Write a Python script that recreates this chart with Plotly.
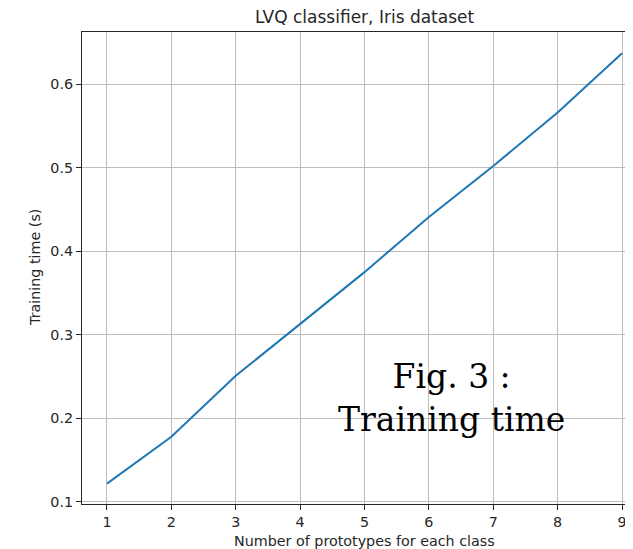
import plotly.graph_objects as go

prototypes = [1, 2, 3, 4, 5, 6, 7, 8, 9]
train_time = [0.122, 0.178, 0.251, 0.313, 0.375, 0.441, 0.502, 0.566, 0.637]
x_ticks = [1, 2, 3, 4, 5, 6, 7, 8, 9]
y_ticks = [0.1, 0.2, 0.3, 0.4, 0.5, 0.6]

OFF = 8  # page body margin
W, H = 633 - OFF, 549 - OFF
# plot area in screen pixels: x 82..633, y 32..504
L = 82 - OFF
T = 32 - OFF
R = 0
B = H - (504 - OFF)

fig = go.Figure()
fig.add_trace(go.Scatter(x=prototypes, y=train_time, mode="lines",
                         line=dict(color="#1f77b4", width=2), showlegend=False))

font = "DejaVu Sans"
grid = "#bdbdbd"
fig.update_layout(
    width=W, height=H,
    margin=dict(l=L, r=R, t=T, b=B, pad=0),
    paper_bgcolor="white", plot_bgcolor="white",
    font=dict(family=font, size=14, color="#262626"),
    xaxis=dict(range=[0.612, 9.17], tickvals=x_ticks, ticks="outside", ticklen=5,
               tickwidth=1, tickcolor="#262626", showline=True, linecolor="#262626",
               linewidth=1.2, mirror=True, showgrid=True, gridcolor=grid,
               gridwidth=1, zeroline=False, tickfont=dict(size=14.3)),
    yaxis=dict(range=[0.0976, 0.6623], tickvals=y_ticks, ticktext=["0.1", "0.2", "0.3", "0.4", "0.5", "0.6"],
               ticks="outside", ticklen=5, tickwidth=1, tickcolor="#262626",
               showline=True, linecolor="#262626", linewidth=1.2, showgrid=True,
               gridcolor=grid, gridwidth=1, zeroline=False, tickfont=dict(size=14.3)),
)

plot_w = W - L - R
plot_h = H - T - B


def px(sx):
    return (sx - OFF - L) / plot_w


def py(sy):
    return (H - B - (sy - OFF)) / plot_h


cx = px(364.6)
fig.add_annotation(text="LVQ classifier, Iris dataset", xref="paper", yref="paper",
                   x=cx, y=py(17), xanchor="center", yanchor="middle",
                   showarrow=False, font=dict(size=17, color="#262626"))
fig.add_annotation(text="Number of prototypes for each class", xref="paper", yref="paper",
                   x=cx, y=py(541), xanchor="center", yanchor="middle",
                   showarrow=False, font=dict(size=14.3, color="#262626"))
fig.add_annotation(text="Training time (s)", xref="paper", yref="paper",
                   x=px(35), y=0.5, xanchor="center", yanchor="middle",
                   textangle=-90, showarrow=False, font=dict(size=14.3, color="#262626"))
fig.add_annotation(text="Fig. 3 :<br>Training time", xref="paper", yref="paper",
                   x=px(451), y=py(398),
                   xanchor="center", yanchor="middle", align="center",
                   showarrow=False, font=dict(family="DejaVu Serif", size=33, color="black"))

fig.write_html("out.html")
